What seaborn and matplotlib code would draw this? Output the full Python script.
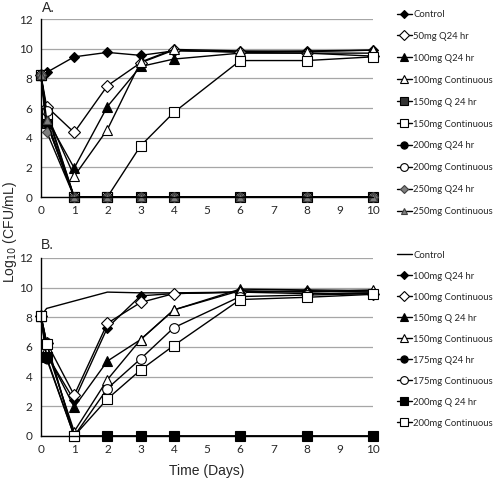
import numpy as np
import pandas as pd
import matplotlib
matplotlib.use("Agg")
import matplotlib.pyplot as plt
import seaborn as sns

# time points (days)
days = [0, 0.17, 1, 2, 3, 4, 6, 8, 10]

# Panel A
a_labels = ['Control', '50mg Q24 hr', '100mg Q24 hr', '100mg Continuous',
            '150mg Q 24 hr', '150mg Continuous', '200mg Q24 hr',
            '200mg Continuous', '250mg Q24 hr', '250mg Continuous']
a_values = [
    [8.2, 8.4, 9.45, 9.75, 9.55, 9.85, 9.8, 9.85, 9.9],
    [8.2, 6.1, 4.35, 7.5, 9.05, 9.9, 9.75, 9.7, 9.5],
    [8.2, 5.3, 1.95, 6.1, 8.8, 9.3, 9.7, 9.7, 9.7],
    [8.2, 5.6, 1.4, 4.55, 9.1, 9.95, 9.85, 9.8, 9.9],
    [8.2, 5.0, 0, 0, 0, 0, 0, 0, 0],
    [8.2, 5.6, 0, 0, 3.45, 5.7, 9.2, 9.2, 9.45],
    [8.2, 5.0, 0, 0, 0, 0, 0, 0, 0],
    [8.2, 5.8, 0, 0, 0, 0, 0, 0, 0],
    [8.2, 4.4, 0, 0, 0, 0, 0, 0, 0],
    [8.2, 5.2, 0, 0, 0, 0, 0, 0, 0],
]

# Panel B
b_labels = ['Control', '100mg Q24 hr', '100mg Continuous', '150mg Q 24 hr',
            '150mg Continuous', '175mg Q24 hr', '175mg Continuous',
            '200mg Q 24 hr', '200mg Continuous']
b_values = [
    [8.1, 8.6, 9.1, 9.7, 9.65, 9.65, 9.7, 9.75, 9.7],
    [8.1, 5.5, 2.4, 7.3, 9.45, 9.6, 9.7, 9.8, 9.7],
    [8.1, 6.3, 2.75, 7.6, 9.0, 9.6, 9.7, 9.6, 9.6],
    [8.1, 5.6, 1.95, 5.05, 6.5, 8.5, 9.9, 9.85, 9.8],
    [8.1, 5.9, 0.3, 3.8, 6.5, 8.5, 9.8, 9.7, 9.85],
    [8.1, 5.2, 0, 0, 0, 0, 0, 0, 0],
    [8.1, 6.3, 0, 3.2, 5.2, 7.3, 9.4, 9.5, 9.6],
    [8.1, 5.3, 0, 0, 0, 0, 0, 0, 0],
    [8.1, 6.2, 0, 2.5, 4.45, 6.1, 9.2, 9.35, 9.55],
]

# marker, face colour, edge colour, size
a_styles = [('D', 'black', 'black', 5.5), ('D', 'white', 'black', 6),
            ('^', 'black', 'black', 6.5), ('^', 'white', 'black', 7),
            ('s', '#333333', 'black', 6.5), ('s', 'white', 'black', 7),
            ('o', 'black', 'black', 6.5), ('o', 'white', 'black', 7),
            ('D', '#7f7f7f', '#404040', 5.5), ('^', '#7f7f7f', '#404040', 6)]
b_styles = [('', 'black', 'black', 0), ('D', 'black', 'black', 5.5),
            ('D', 'white', 'black', 6), ('^', 'black', 'black', 6.5),
            ('^', 'white', 'black', 7), ('o', 'black', 'black', 6.5),
            ('o', 'white', 'black', 7), ('s', 'black', 'black', 6.5),
            ('s', 'white', 'black', 7)]

sns.set_style('white')
plt.rcParams['font.family'] = ['Lato', 'DejaVu Sans']

fig = plt.figure(figsize=(5, 4.79), dpi=100)
ax_a = fig.add_axes([0.082, 0.5887, 0.664, 0.3716])
ax_b = fig.add_axes([0.082, 0.0898, 0.664, 0.3716])


def draw(ax, labels, values, styles):
    for lab, vals, (m, fc, ec, ms) in zip(labels, values, styles):
        df = pd.DataFrame({'day': days, 'cfu': vals})
        sns.lineplot(data=df, x='day', y='cfu', ax=ax, color='black', lw=1.0,
                     marker=m if m else None, markersize=ms, markerfacecolor=fc,
                     markeredgecolor=ec, markeredgewidth=0.8, label=lab,
                     clip_on=False, legend=False)
    ax.set_xlim(0, 10)
    ax.set_ylim(0, 12)
    ax.set_xticks(range(0, 11))
    ax.set_yticks(range(0, 13, 2))
    ax.yaxis.grid(True, color='#a6a6a6', lw=0.9)
    ax.set_axisbelow(True)
    for s in ['top', 'right']:
        ax.spines[s].set_visible(False)
    for s in ['left', 'bottom']:
        ax.spines[s].set_color('black')
        ax.spines[s].set_linewidth(1.0)
    ax.tick_params(axis='both', labelsize=8.5, length=0, pad=6)
    ax.set_xlabel('')
    ax.set_ylabel('')


draw(ax_a, a_labels, a_values, a_styles)
draw(ax_b, b_labels, b_values, b_styles)

ax_b.set_xlabel('Time (Days)', fontsize=10, family='Liberation Sans', labelpad=6)
fig.text(0.02, 0.516, 'Log$_{10}$ (CFU/mL)', rotation=90, ha='center',
         va='center', fontsize=10, family='Liberation Sans')
fig.text(0.084, 0.983, 'A.', fontsize=10, family='Liberation Sans', va='center')
fig.text(0.082, 0.4885, 'B.', fontsize=10, family='Liberation Sans', va='center')

h, l = ax_a.get_legend_handles_labels()
fig.legend(h, l, loc='center left', bbox_to_anchor=(0.793, 0.764), frameon=False,
           fontsize=6.8, handlelength=1.6, handletextpad=0.15, borderpad=0,
           labelspacing=1.37, borderaxespad=0, markerscale=0.8)
h, l = ax_b.get_legend_handles_labels()
fig.legend(h, l, loc='center left', bbox_to_anchor=(0.793, 0.292), frameon=False,
           fontsize=6.8, handlelength=1.6, handletextpad=0.15, borderpad=0,
           labelspacing=1.27, borderaxespad=0, markerscale=0.8)

fig.savefig('out.png', dpi=100)
